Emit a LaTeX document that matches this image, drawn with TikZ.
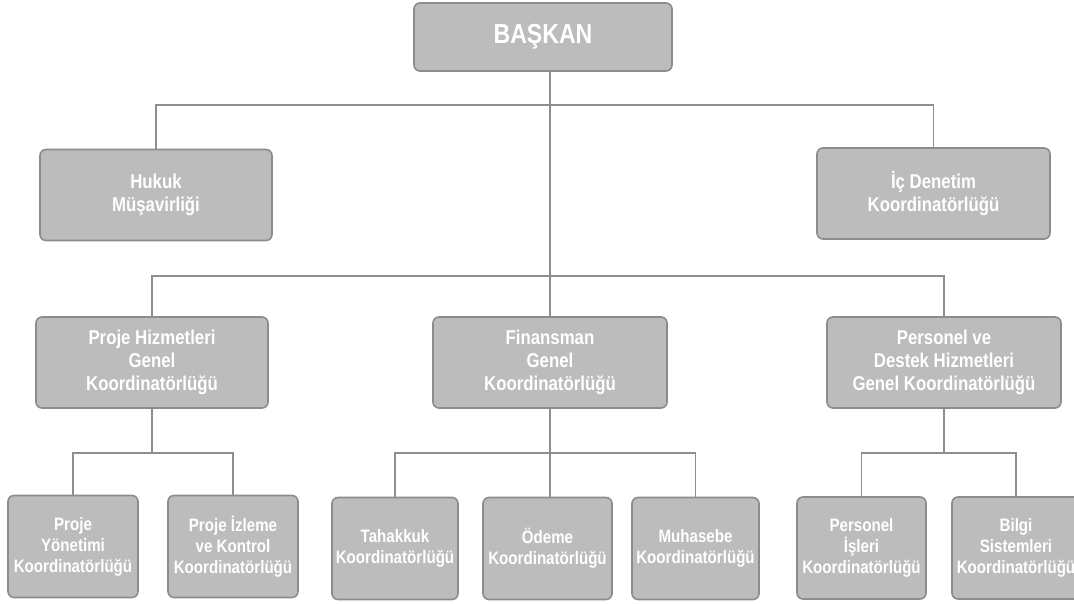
\documentclass[tikz,border=0pt]{standalone}
\usepackage{fontspec}
\setmainfont{Liberation Sans}[FakeStretch=0.84]
\usetikzlibrary{positioning}
\definecolor{boxfill}{HTML}{BCBCBC}
\definecolor{boxline}{HTML}{8C8C8C}
\definecolor{wiregray}{HTML}{8E8E8E}

\begin{document}
\begin{tikzpicture}[x=1pt,y=-1pt,line width=1.6pt]
  \tikzstyle{unit}=[draw=boxline,fill=boxfill,text=white,rounded corners=6pt,
                    align=center,inner sep=0pt,minimum width=232pt,minimum height=91pt,
                    font=\bfseries\fontsize{20}{23}\selectfont]
  \tikzstyle{subunit}=[unit,minimum width=128pt,minimum height=102pt,
                       font=\bfseries\fontsize{18}{21}\selectfont]
  \tikzstyle{wire}=[draw=wiregray,line width=1.8pt]

  \useasboundingbox (0,0) rectangle (1074,603);

  \coordinate (bus1) at (0,105);
  \coordinate (bus2) at (0,276);
  \coordinate (bus3) at (0,453);

  \node[unit,minimum width=258pt,minimum height=68pt,
        font=\bfseries\fontsize{27.5}{31}\selectfont] (baskan) at (543,37) {BAŞKAN};

  \node[unit]                     (hukuk)     at (156,195)    {Hukuk\\Müşavirliği};
  \node[unit,minimum width=233pt] (icdenetim) at (933.5,193.5) {İç Denetim\\Koordinatörlüğü};

  \node[unit]                     (projehiz)  at (152,362.5) {Proje Hizmetleri\\Genel\\Koordinatörlüğü};
  \node[unit,minimum width=234pt] (finansman) at (550,362.5) {Finansman\\Genel\\Koordinatörlüğü};
  \node[unit,minimum width=234pt] (personel)  at (944,362.5) {Personel ve\\Destek Hizmetleri\\Genel Koordinatörlüğü};

  \node[subunit,minimum width=130pt] (pyonetim)  at (73,546.5)   {Proje\\Yönetimi\\Koordinatörlüğü};
  \node[subunit,minimum width=130pt] (pizleme)   at (233,546.5)  {Proje İzleme\\ve Kontrol\\Koordinatörlüğü};
  \node[subunit,minimum width=126pt] (tahakkuk)  at (395,548.5)  {Tahakkuk\\Koordinatörlüğü};
  \node[subunit,minimum width=129pt] (odeme)     at (547.5,548.5) {Ödeme\\Koordinatörlüğü};
  \node[subunit,minimum width=127pt] (muhasebe)  at (695.5,548.5) {Muhasebe\\Koordinatörlüğü};
  \node[subunit,minimum width=129pt] (perisleri) at (861.5,548)  {Personel\\İşleri\\Koordinatörlüğü};
  \node[subunit]                     (bilgi)     at (1016,548)   {Bilgi\\Sistemleri\\Koordinatörlüğü};

  % connectors
  \draw[wire] (baskan.south -| finansman.north) -- (finansman.north);
  \draw[wire] (hukuk.north) |- (bus1 -| icdenetim.north) -- (icdenetim.north);
  \draw[wire] (projehiz.north) |- (bus2 -| personel.north) -- (personel.north);

  \draw[wire] (projehiz.south) -- (projehiz.south |- bus3);
  \draw[wire] (pyonetim.north) |- (bus3 -| pizleme.north) -- (pizleme.north);

  \draw[wire] (finansman.south) -- (finansman.south |- odeme.north);
  \draw[wire] (tahakkuk.north) |- (bus3 -| muhasebe.north) -- (muhasebe.north);

  \draw[wire] (personel.south) -- (personel.south |- bus3);
  \draw[wire] (perisleri.north) |- (bus3 -| bilgi.north) -- (bilgi.north);
\end{tikzpicture}
\end{document}
